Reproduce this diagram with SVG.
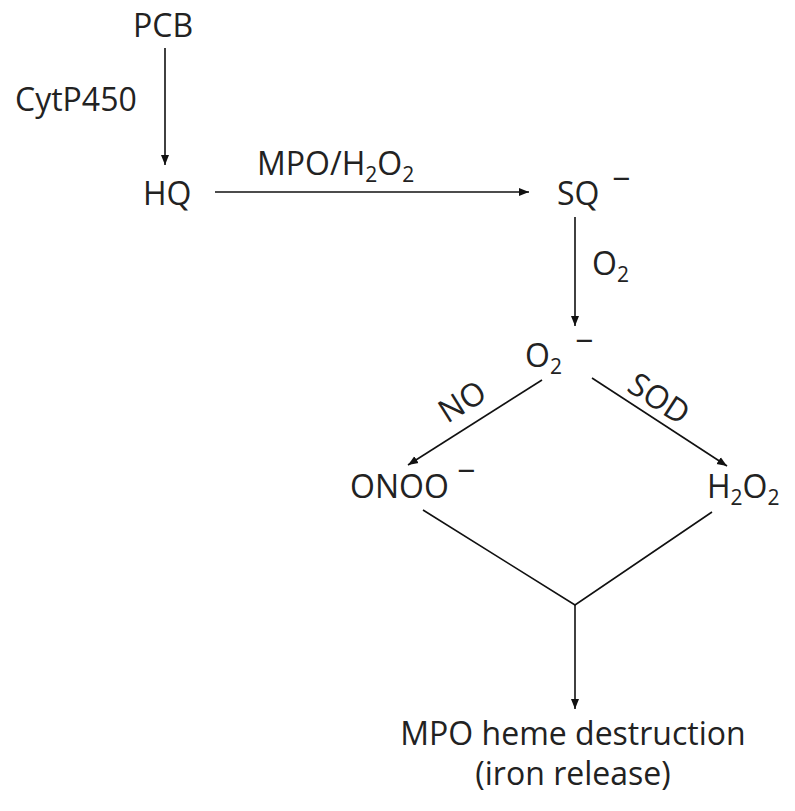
<svg xmlns="http://www.w3.org/2000/svg" width="795" height="811" viewBox="0 0 795 811">
<defs>
<style>
text{font-family:"Open Sans","Liberation Sans",sans-serif;font-size:32px;fill:#222}
.sub{font-size:21px}
.ln{stroke:#111;stroke-width:1.6;fill:none}
.ar{marker-end:url(#ah)}
</style>
<marker id="ah" markerWidth="10" markerHeight="10" viewBox="0 0 10 10" refX="10" refY="5" orient="auto" markerUnits="userSpaceOnUse">
<path d="M0,1 L10,5 L0,9 Z" fill="#111"/>
</marker>
</defs>
<rect width="795" height="811" fill="#fff"/>
<g id="connectors">
<line class="ln ar" x1="165" y1="48" x2="165" y2="165"/>
<line class="ln ar" x1="215" y1="192" x2="529" y2="192"/>
<line class="ln ar" x1="575" y1="217" x2="575" y2="326"/>
<line class="ln ar" x1="542" y1="380" x2="408" y2="465"/>
<line class="ln ar" x1="592" y1="378" x2="727" y2="466"/>
<polyline class="ln" points="423,510 575,605 712,512"/>
<line class="ln ar" x1="575" y1="605" x2="575" y2="709"/>
</g>
<g id="label-cyt"><text x="15" y="111">CytP450</text></g>
<g id="label-mpo"><text x="257" y="175">MPO/H<tspan class="sub" dy="7">2</tspan><tspan dy="-7">O</tspan><tspan class="sub" dy="7">2</tspan></text></g>
<g id="label-o2"><text x="592" y="275">O<tspan class="sub" dy="7">2</tspan></text></g>
<g id="label-no"><text transform="translate(468,411) rotate(-32)" text-anchor="middle">NO</text></g>
<g id="label-sod"><text transform="translate(653,408) rotate(33)" text-anchor="middle">SOD</text></g>
<g id="node-pcb"><text x="133" y="37">PCB</text></g>
<g id="node-hq"><text x="143" y="205">HQ</text></g>
<g id="node-sq"><text x="557" y="205">SQ</text><text x="612" y="190">−</text></g>
<g id="node-o2"><text x="525" y="367">O<tspan class="sub" dy="7">2</tspan></text><text x="575" y="352">−</text></g>
<g id="node-onoo"><text x="350" y="498">ONOO</text><text x="457" y="482">−</text></g>
<g id="node-h2o2"><text x="707" y="498">H<tspan class="sub" dy="7">2</tspan><tspan dy="-7">O</tspan><tspan class="sub" dy="7">2</tspan></text></g>
<g id="node-mpo"><text x="573" y="745" text-anchor="middle">MPO heme destruction</text><text x="573" y="785" text-anchor="middle">(iron release)</text></g>
</svg>
